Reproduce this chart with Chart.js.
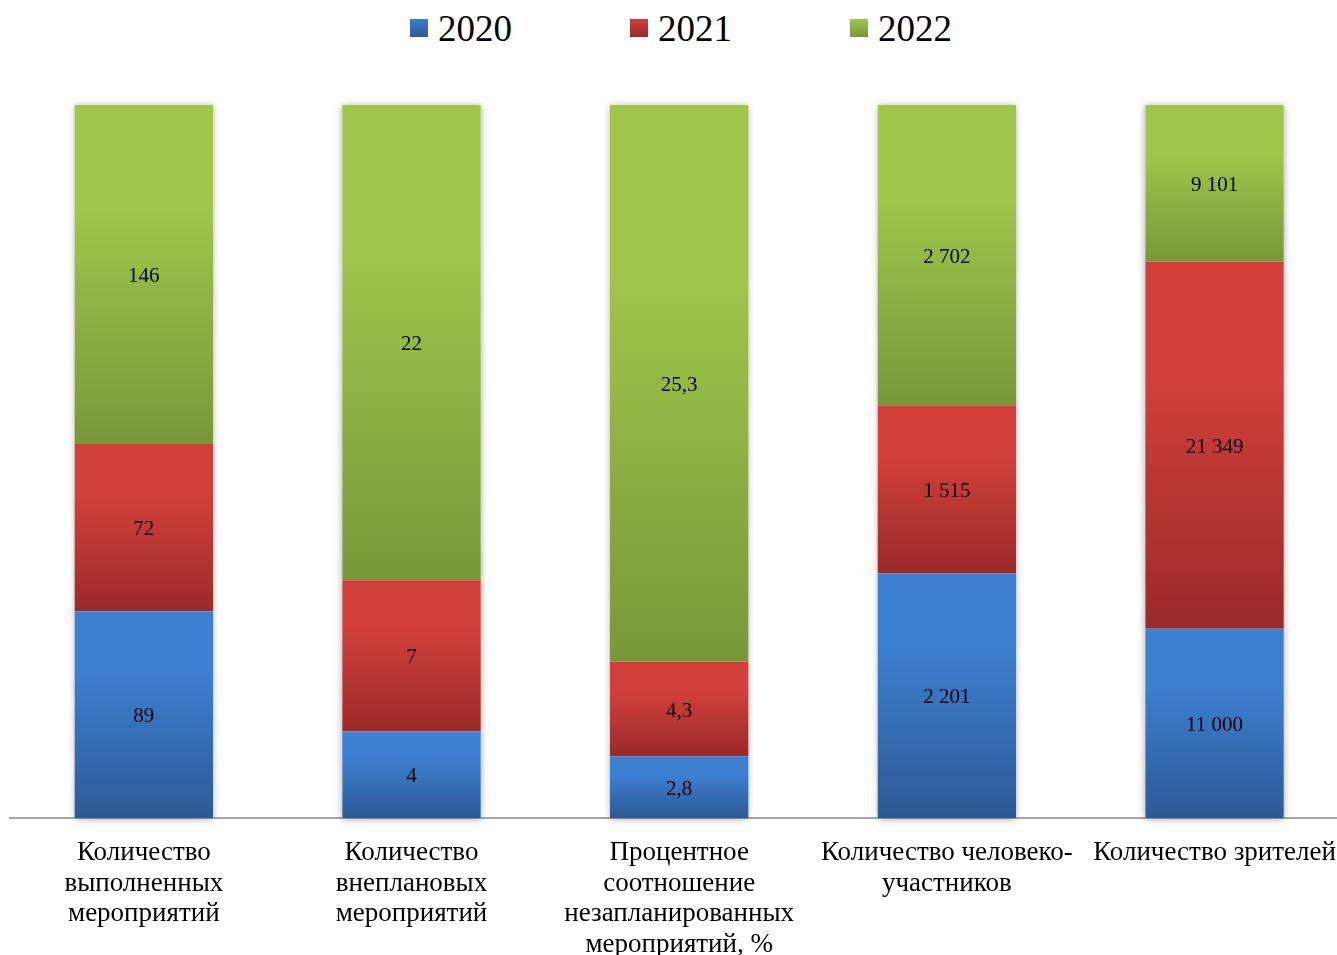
<!DOCTYPE html>
<html lang="ru">
<head>
<meta charset="utf-8">
<script src="https://cdn.jsdelivr.net/npm/chart.js@4.4.0/dist/chart.umd.min.js"></script>
<style>
  html, body { margin: 0; padding: 0; background: #fff; overflow: hidden; width: 1337px; height: 955px; }
  #wrap { position: relative; width: 1337px; height: 955px; overflow: hidden; }
  #chart { position: absolute; left: 0; top: 0; }
  #legend { position: absolute; left: 410px; top: 5px; display: flex; gap: 118px; font-family: 'Liberation Serif', 'Times New Roman', serif; font-size: 37px; color: #000; }
  .item { display: flex; align-items: center; gap: 10px; height: 46px; }
  .box { width: 18px; height: 18px; }
</style>
</head>
<body>
<div id="wrap">
  <div id="legend"></div>
  <canvas id="chart" width="1356" height="980"></canvas>
</div>
<script>
const categories = [
  ['Количество', 'выполненных', 'мероприятий'],
  ['Количество', 'внеплановых', 'мероприятий'],
  ['Процентное', 'соотношение', 'незапланированных', 'мероприятий, %'],
  ['Количество человеко-', 'участников'],
  ['Количество зрителей']
];
const years = ['2020', '2021', '2022'];
const values2020 = [89, 4, 2.8, 2201, 11000];
const values2021 = [72, 7, 4.3, 1515, 21349];
const values2022 = [146, 22, 25.3, 2702, 9101];

const series = [values2020, values2021, values2022];
// top / bottom gradient colours per series
const shades = [
  ['#3d7fd0', '#2c5995'],
  ['#d2403c', '#9a2a28'],
  ['#a0c64b', '#77983a']
];

// share of each value in its column, the chart is 100% stacked
const totals = categories.map((c, i) => series.reduce((s, arr) => s + arr[i], 0));
const shares = series.map(arr => arr.map((v, i) => v / totals[i] * 100));

function fmt(v) {
  const parts = String(v).split('.');
  const int = parts[0].replace(/\B(?=(\d{3})+(?!\d))/g, ' ');
  return parts[1] ? int + ',' + parts[1] : int;
}

function segGradient(context, d) {
  const chart = context.chart;
  const y = chart.scales.y;
  if (!chart.chartArea || !y || context.dataIndex === undefined) return shades[d][0];
  const i = context.dataIndex;
  let start = 0;
  for (let k = 0; k < d; k++) start += shares[k][i];
  const top = y.getPixelForValue(start + shares[d][i]);
  const bottom = y.getPixelForValue(start);
  if (!isFinite(top) || !isFinite(bottom) || top === bottom) return shades[d][0];
  const g = chart.ctx.createLinearGradient(0, top, 0, bottom);
  g.addColorStop(0, shades[d][0]);
  g.addColorStop(0.3, shades[d][0]);
  g.addColorStop(1, shades[d][1]);
  return g;
}

// soft shadow behind each whole column
const columnShadow = {
  id: 'columnShadow',
  beforeDatasetsDraw(chart) {
    const ctx = chart.ctx;
    const first = chart.getDatasetMeta(0).data;
    const last = chart.getDatasetMeta(series.length - 1).data;
    ctx.save();
    ctx.shadowColor = 'rgba(0,0,0,0.35)';
    ctx.shadowBlur = 7;
    ctx.shadowOffsetX = 0;
    ctx.shadowOffsetY = 1;
    ctx.fillStyle = '#fff';
    first.forEach((el, i) => {
      const topY = last[i].y;
      ctx.fillRect(el.x - el.width / 2, topY, el.width, el.base - topY);
    });
    ctx.restore();
  }
};

// raw numbers in the middle of each segment
const segLabels = {
  id: 'segLabels',
  afterDatasetsDraw(chart) {
    const ctx = chart.ctx;
    ctx.save();
    ctx.font = '21px "Liberation Serif", "Times New Roman", serif';
    ctx.fillStyle = '#000';
    ctx.textAlign = 'center';
    ctx.textBaseline = 'middle';
    series.forEach((arr, d) => {
      chart.getDatasetMeta(d).data.forEach((el, i) => {
        ctx.fillText(fmt(arr[i]), el.x, (el.y + el.base) / 2 + 2);
      });
    });
    ctx.restore();
  }
};

const chart = new Chart(document.getElementById('chart').getContext('2d'), {
  type: 'bar',
  data: {
    labels: categories,
    datasets: years.map((yr, d) => ({
      label: yr,
      data: shares[d],
      backgroundColor: (c) => segGradient(c, d),
      borderWidth: 0,
      barPercentage: 0.517,
      categoryPercentage: 1
    }))
  },
  options: {
    responsive: false,
    animation: false,
    layout: { padding: { top: 105, left: 10, right: 0, bottom: 0 } },
    plugins: {
      legend: { display: false },
      tooltip: { enabled: false }
    },
    scales: {
      x: {
        stacked: true,
        grid: { display: false, drawTicks: false },
        border: { display: true, color: '#a6a6a6', width: 2 },
        ticks: {
          color: '#000',
          font: { family: '"Liberation Serif", "Times New Roman", serif', size: 27, lineHeight: 1.13 },
          padding: 20,
          maxRotation: 0,
          autoSkip: false
        }
      },
      y: {
        stacked: true,
        display: false,
        min: 0,
        max: 100
      }
    }
  },
  plugins: [columnShadow, segLabels]
});

// legend built from the datasets
const legendEl = document.getElementById('legend');
chart.data.datasets.forEach((ds, d) => {
  const item = document.createElement('div');
  item.className = 'item';
  const box = document.createElement('span');
  box.className = 'box';
  box.style.background = 'linear-gradient(to bottom, ' + shades[d][0] + ', ' + shades[d][1] + ')';
  const txt = document.createElement('span');
  txt.textContent = ds.label;
  item.appendChild(box);
  item.appendChild(txt);
  legendEl.appendChild(item);
});
</script>
</body>
</html>
